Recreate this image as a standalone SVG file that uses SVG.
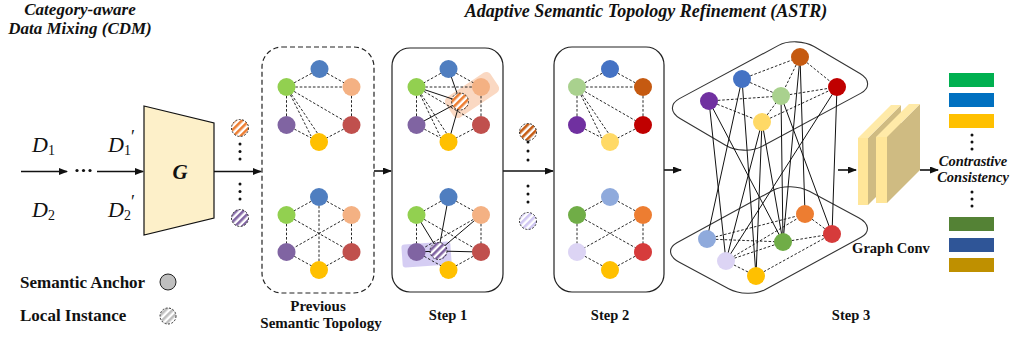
<svg xmlns="http://www.w3.org/2000/svg" width="1011" height="338" viewBox="0 0 1011 338">
  <style>
    .lbl { font-family: "Liberation Serif", "Times New Roman", serif; font-weight: bold; fill: #111; }
    .ital { font-style: italic; }
    .math { font-family: "Liberation Serif", "Times New Roman", serif; font-style: italic; fill: #111; }
    .up { font-style: normal; }
    .dash { stroke: #111; stroke-width: 0.9; stroke-dasharray: 2.6 1.8; fill: none; }
    .solid { stroke: #111; stroke-width: 1; fill: none; }
    .arrow { stroke: #111; stroke-width: 1.6; fill: none; marker-end: url(#ah); }
    .box { fill: #fff; stroke: #222; stroke-width: 1.2; }
    .dashbox { fill: #fff; stroke: #222; stroke-width: 1.2; stroke-dasharray: 5 3; }
    .inst { stroke: #222; stroke-width: 0.9; stroke-dasharray: 2 1.5; }
    .dot { fill: #111; }
    .plane { fill: none; stroke: #333; stroke-width: 1.1; vector-effect: non-scaling-stroke; }
  </style>
  <defs>
    <marker id="ah" markerWidth="9" markerHeight="7" refX="8" refY="3.5" orient="auto" markerUnits="userSpaceOnUse">
      <path d="M0,0 L9,3.5 L0,7 z" fill="#111"/>
    </marker>
    <pattern id="stOrange" patternUnits="userSpaceOnUse" width="5" height="5" patternTransform="rotate(45)">
      <rect width="5" height="5" fill="#fff"/><rect width="2.6" height="5" fill="#ED7D31"/>
    </pattern>
    <pattern id="stPurple" patternUnits="userSpaceOnUse" width="5" height="5" patternTransform="rotate(45)">
      <rect width="5" height="5" fill="#fff"/><rect width="2.6" height="5" fill="#8064A2"/>
    </pattern>
    <pattern id="stBrown" patternUnits="userSpaceOnUse" width="5" height="5" patternTransform="rotate(45)">
      <rect width="5" height="5" fill="#fff"/><rect width="2.6" height="5" fill="#C55A11"/>
    </pattern>
    <pattern id="stLav" patternUnits="userSpaceOnUse" width="5" height="5" patternTransform="rotate(45)">
      <rect width="5" height="5" fill="#fff"/><rect width="2.6" height="5" fill="#CFC6F2"/>
    </pattern>
    <pattern id="stGray" patternUnits="userSpaceOnUse" width="5" height="5" patternTransform="rotate(45)">
      <rect width="5" height="5" fill="#fff"/><rect width="2.6" height="5" fill="#BFBFBF"/>
    </pattern>
  </defs>

  <rect width="1011" height="338" fill="#fff"/>

  <!-- section titles -->
  <g id="title-cdm">
    <text class="lbl ital" x="80" y="15" font-size="17" text-anchor="middle">Category-aware</text>
    <text class="lbl ital" x="80" y="34" font-size="17" text-anchor="middle">Data Mixing (CDM)</text>
  </g>
  <g id="title-astr">
    <text class="lbl ital" x="646" y="17" font-size="18" text-anchor="middle">Adaptive Semantic Topology Refinement (ASTR)</text>
  </g>

  <!-- connectors -->
  <g id="connectors">
    <line class="arrow" x1="21" y1="171.5" x2="67" y2="171.5"/>
    <line class="arrow" x1="97" y1="171.5" x2="143" y2="171.5"/>
    <line class="arrow" x1="214" y1="171.5" x2="261" y2="171.5"/>
    <line class="arrow" x1="374" y1="171" x2="391" y2="171"/>
    <line class="arrow" x1="503" y1="171" x2="553" y2="171"/>
    <line class="arrow" x1="664" y1="170" x2="681" y2="170"/>
    <line class="arrow" x1="838" y1="170" x2="856" y2="170"/>
    <line class="arrow" x1="920" y1="170" x2="938" y2="170"/>
  </g>

  <!-- domain inputs -->
  <g id="inputs">
    <text class="math" x="32" y="152" font-size="22">D<tspan class="up" font-size="14" dy="3">1</tspan></text>
    <text class="math" x="32" y="217" font-size="22">D<tspan class="up" font-size="14" dy="3">2</tspan></text>
    <text class="math" x="108" y="152" font-size="22">D<tspan class="up" font-size="14" dy="3">1</tspan><tspan class="up" font-size="18" dy="-12">′</tspan></text>
    <text class="math" x="108" y="217" font-size="22">D<tspan class="up" font-size="14" dy="3">2</tspan><tspan class="up" font-size="18" dy="-12">′</tspan></text>
    <circle class="dot" cx="77" cy="170.5" r="1.6"/>
    <circle class="dot" cx="83.5" cy="170.5" r="1.6"/>
    <circle class="dot" cx="90" cy="170.5" r="1.6"/>
  </g>

  <!-- generator -->
  <g id="generator">
    <polygon points="144,106 214,123 214,218 144,235" fill="#FDF0C9" stroke="#111" stroke-width="1.2"/>
    <text class="lbl ital" x="180" y="179" font-size="21" text-anchor="middle">G</text>
  </g>

  <!-- mixed instances -->
  <g id="mixed-instances">
    <circle class="inst" cx="240" cy="128" r="8.5" fill="url(#stOrange)"/>
    <circle class="dot" cx="240" cy="144" r="1.5"/>
    <circle class="dot" cx="240" cy="151.5" r="1.5"/>
    <circle class="dot" cx="240" cy="159" r="1.5"/>
    <circle class="dot" cx="240" cy="184" r="1.5"/>
    <circle class="dot" cx="240" cy="191.5" r="1.5"/>
    <circle class="dot" cx="240" cy="199" r="1.5"/>
    <circle class="inst" cx="240" cy="218" r="8.5" fill="url(#stPurple)"/>
  </g>

  <!-- previous semantic topology -->
  <g id="previous-topology">
    <rect class="dashbox" x="262" y="47" width="112" height="246" rx="20"/>
    <g>
      <line class="dash" x1="319.5" y1="69" x2="286.5" y2="87"/>
      <line class="dash" x1="319.5" y1="69" x2="351.5" y2="87"/>
      <line class="dash" x1="286.5" y1="87" x2="351.5" y2="87"/>
      <line class="dash" x1="286.5" y1="87" x2="286.5" y2="125"/>
      <line class="dash" x1="351.5" y1="87" x2="351.5" y2="125"/>
      <line class="dash" x1="286.5" y1="125" x2="319" y2="142"/>
      <line class="dash" x1="351.5" y1="125" x2="319" y2="142"/>
      <line class="dash" x1="286.5" y1="87" x2="351.5" y2="125"/>
      <line class="dash" x1="286.5" y1="87" x2="318" y2="134"/>
      <line class="dash" x1="286.5" y1="87" x2="311" y2="136"/>
      <circle cx="319.5" cy="69" r="9" fill="#4F7EC0"/>
      <circle cx="286.5" cy="87" r="9" fill="#92D050"/>
      <circle cx="351.5" cy="87" r="9" fill="#F4B183"/>
      <circle cx="286.5" cy="125" r="9" fill="#8064A2"/>
      <circle cx="351.5" cy="125" r="9" fill="#C0504D"/>
      <circle cx="319" cy="142" r="9" fill="#FFC000"/>
    </g>
    <g>
      <line class="dash" x1="319" y1="197" x2="286.5" y2="215"/>
      <line class="dash" x1="319" y1="197" x2="351.5" y2="215"/>
      <line class="dash" x1="286.5" y1="215" x2="286.5" y2="252"/>
      <line class="dash" x1="351.5" y1="215" x2="351.5" y2="252"/>
      <line class="dash" x1="286.5" y1="252" x2="319" y2="270"/>
      <line class="dash" x1="351.5" y1="252" x2="319" y2="270"/>
      <line class="dash" x1="286.5" y1="215" x2="351.5" y2="252"/>
      <line class="dash" x1="351.5" y1="215" x2="286.5" y2="252"/>
      <line class="dash" x1="319" y1="197" x2="319" y2="270"/>
      <circle cx="319" cy="197" r="9" fill="#4F7EC0"/>
      <circle cx="286.5" cy="215" r="9" fill="#92D050"/>
      <circle cx="351.5" cy="215" r="9" fill="#F4B183"/>
      <circle cx="286.5" cy="252" r="9" fill="#8064A2"/>
      <circle cx="351.5" cy="252" r="9" fill="#C0504D"/>
      <circle cx="319" cy="270" r="9" fill="#FFC000"/>
    </g>
    <text class="lbl" x="318" y="311" font-size="15" text-anchor="middle">Previous</text>
    <text class="lbl" x="321" y="328" font-size="15" text-anchor="middle">Semantic Topology</text>
  </g>

  <!-- step 1: instances attach to anchors -->
  <g id="step1">
    <rect class="box" x="392" y="48" width="111" height="244" rx="18"/>
    <g>
      <rect x="445" y="83" width="54" height="24" rx="5" fill="#F8CBAD" opacity="0.75" transform="rotate(-34 472 95)"/>
      <line class="dash" x1="448.5" y1="69" x2="416.5" y2="87"/>
      <line class="dash" x1="448.5" y1="69" x2="481" y2="87"/>
      <line class="dash" x1="416.5" y1="87" x2="481" y2="87"/>
      <line class="dash" x1="416.5" y1="87" x2="416.5" y2="125"/>
      <line class="dash" x1="481" y1="87" x2="481" y2="125"/>
      <line class="dash" x1="416.5" y1="125" x2="448.5" y2="142"/>
      <line class="dash" x1="481" y1="125" x2="448.5" y2="142"/>
      <line class="dash" x1="416.5" y1="87" x2="481" y2="125"/>
      <line class="dash" x1="416.5" y1="87" x2="447" y2="134"/>
      <line class="dash" x1="416.5" y1="87" x2="440" y2="136"/>
      <line class="solid" x1="460" y1="101.5" x2="416.5" y2="87"/>
      <line class="solid" x1="460" y1="101.5" x2="416.5" y2="125"/>
      <line class="solid" x1="460" y1="101.5" x2="448.5" y2="69"/>
      <line class="solid" x1="460" y1="101.5" x2="448.5" y2="142"/>
      <circle cx="448.5" cy="69" r="9" fill="#4F7EC0"/>
      <circle cx="416.5" cy="87" r="9" fill="#92D050"/>
      <circle cx="481" cy="87" r="9" fill="#F4B183"/>
      <circle cx="416.5" cy="125" r="9" fill="#8064A2"/>
      <circle cx="481" cy="125" r="9" fill="#C0504D"/>
      <circle cx="448.5" cy="142" r="9" fill="#FFC000"/>
      <circle class="inst" cx="460" cy="101.5" r="8.5" fill="url(#stOrange)"/>
    </g>
    <g>
      <rect x="402" y="243" width="49" height="23" rx="3" fill="#B9ACEB" opacity="0.6" transform="rotate(-4 426.5 254.5)"/>
      <line class="dash" x1="448.5" y1="197" x2="416.5" y2="215"/>
      <line class="dash" x1="448.5" y1="197" x2="481" y2="215"/>
      <line class="dash" x1="416.5" y1="215" x2="416.5" y2="252"/>
      <line class="dash" x1="481" y1="215" x2="481" y2="252"/>
      <line class="dash" x1="416.5" y1="252" x2="448.5" y2="270"/>
      <line class="dash" x1="481" y1="252" x2="448.5" y2="270"/>
      <line class="dash" x1="416.5" y1="215" x2="481" y2="252"/>
      <line class="dash" x1="481" y1="215" x2="416.5" y2="252"/>
      <line class="solid" x1="438.5" y1="251" x2="448.5" y2="197"/>
      <line class="solid" x1="438.5" y1="251" x2="416.5" y2="215"/>
      <line class="solid" x1="438.5" y1="251" x2="481" y2="215"/>
      <line class="solid" x1="438.5" y1="251" x2="481" y2="252"/>
      <line class="solid" x1="438.5" y1="251" x2="416.5" y2="252"/>
      <circle cx="448.5" cy="197" r="9" fill="#4F7EC0"/>
      <circle cx="416.5" cy="215" r="9" fill="#92D050"/>
      <circle cx="481" cy="215" r="9" fill="#F4B183"/>
      <circle cx="416.5" cy="252" r="9" fill="#8064A2"/>
      <circle cx="481" cy="252" r="9" fill="#C0504D"/>
      <circle cx="448.5" cy="270" r="9" fill="#FFC000"/>
      <circle class="inst" cx="438.5" cy="251" r="8.5" fill="url(#stPurple)"/>
    </g>
    <text class="lbl" x="448" y="320" font-size="14.5" text-anchor="middle">Step 1</text>
  </g>

  <!-- refined instances -->
  <g id="refined-instances">
    <circle class="inst" cx="528" cy="132" r="8.5" fill="url(#stBrown)"/>
    <circle class="dot" cx="528" cy="142" r="1.5"/>
    <circle class="dot" cx="528" cy="151" r="1.5"/>
    <circle class="dot" cx="528" cy="160" r="1.5"/>
    <circle class="dot" cx="528" cy="186" r="1.5"/>
    <circle class="dot" cx="528" cy="194" r="1.5"/>
    <circle class="dot" cx="528" cy="202" r="1.5"/>
    <circle class="inst" cx="528" cy="221" r="8.5" fill="url(#stLav)"/>
  </g>

  <!-- step 2: updated anchors -->
  <g id="step2">
    <rect class="box" x="554" y="47" width="110" height="245" rx="18"/>
    <g>
      <line class="dash" x1="610" y1="69" x2="577" y2="87"/>
      <line class="dash" x1="610" y1="69" x2="643" y2="87"/>
      <line class="dash" x1="577" y1="87" x2="643" y2="87"/>
      <line class="dash" x1="577" y1="87" x2="577" y2="125"/>
      <line class="dash" x1="643" y1="87" x2="643" y2="125"/>
      <line class="dash" x1="577" y1="125" x2="610" y2="142"/>
      <line class="dash" x1="643" y1="125" x2="610" y2="142"/>
      <line class="dash" x1="577" y1="87" x2="643" y2="125"/>
      <line class="dash" x1="577" y1="87" x2="609" y2="134"/>
      <line class="dash" x1="577" y1="87" x2="601" y2="136"/>
      <circle cx="610" cy="69" r="9" fill="#4472C4"/>
      <circle cx="577" cy="87" r="9" fill="#A9D18E"/>
      <circle cx="643" cy="87" r="9" fill="#C55A11"/>
      <circle cx="577" cy="125" r="9" fill="#7030A0"/>
      <circle cx="643" cy="125" r="9" fill="#C00000"/>
      <circle cx="610" cy="142" r="9" fill="#FFD966"/>
    </g>
    <g>
      <line class="dash" x1="610" y1="197" x2="577" y2="215"/>
      <line class="dash" x1="610" y1="197" x2="643" y2="215"/>
      <line class="dash" x1="577" y1="215" x2="577" y2="252"/>
      <line class="dash" x1="643" y1="215" x2="643" y2="252"/>
      <line class="dash" x1="577" y1="252" x2="610" y2="270"/>
      <line class="dash" x1="643" y1="252" x2="610" y2="270"/>
      <line class="dash" x1="577" y1="215" x2="643" y2="252"/>
      <line class="dash" x1="643" y1="215" x2="577" y2="252"/>
      <circle cx="610" cy="197" r="9" fill="#8FAADC"/>
      <circle cx="577" cy="215" r="9" fill="#70AD47"/>
      <circle cx="643" cy="215" r="9" fill="#ED7D31"/>
      <circle cx="577" cy="252" r="9" fill="#DCD4F4"/>
      <circle cx="643" cy="252" r="9" fill="#D63B3B"/>
      <circle cx="610" cy="270" r="9" fill="#FFC000"/>
    </g>
    <text class="lbl" x="610" y="320" font-size="14.5" text-anchor="middle">Step 2</text>
  </g>

  <!-- step 3: cross-domain topology -->
  <g id="step3">
    <rect class="plane" x="0" y="0" width="100" height="100" rx="13" ry="22" transform="matrix(1.34 -0.72 0.82 0.48 662 108)"/>
    <rect class="plane" x="0" y="0" width="100" height="100" rx="13" ry="22" transform="matrix(1.30 -0.71 0.88 0.47 660 252)"/>
    <!-- intra-domain edges, upper plane -->
    <line class="dash" x1="742" y1="79" x2="800" y2="57"/>
    <line class="dash" x1="742" y1="79" x2="781" y2="96"/>
    <line class="dash" x1="800" y1="57" x2="781" y2="96"/>
    <line class="dash" x1="800" y1="57" x2="837" y2="87"/>
    <line class="dash" x1="709" y1="101" x2="781" y2="96"/>
    <line class="dash" x1="781" y1="96" x2="837" y2="87"/>
    <line class="dash" x1="709" y1="101" x2="762" y2="122"/>
    <line class="dash" x1="762" y1="122" x2="781" y2="96"/>
    <line class="dash" x1="762" y1="122" x2="837" y2="87"/>
    <!-- intra-domain edges, lower plane -->
    <line class="dash" x1="707" y1="239" x2="805" y2="214"/>
    <line class="dash" x1="707" y1="239" x2="783" y2="242"/>
    <line class="dash" x1="726" y1="261" x2="805" y2="214"/>
    <line class="dash" x1="726" y1="261" x2="783" y2="242"/>
    <line class="dash" x1="783" y1="242" x2="832" y2="234"/>
    <line class="dash" x1="805" y1="214" x2="832" y2="234"/>
    <line class="dash" x1="726" y1="261" x2="756" y2="276"/>
    <line class="dash" x1="756" y1="276" x2="832" y2="234"/>
    <!-- cross-domain edges -->
    <line class="solid" x1="709" y1="101" x2="726" y2="261"/>
    <line class="solid" x1="709" y1="101" x2="783" y2="242"/>
    <line class="solid" x1="742" y1="79" x2="707" y2="239"/>
    <line class="solid" x1="742" y1="79" x2="756" y2="276"/>
    <line class="solid" x1="762" y1="122" x2="726" y2="261"/>
    <line class="solid" x1="762" y1="122" x2="756" y2="276"/>
    <line class="solid" x1="762" y1="122" x2="783" y2="242"/>
    <line class="solid" x1="781" y1="96" x2="783" y2="242"/>
    <line class="solid" x1="781" y1="96" x2="832" y2="234"/>
    <line class="solid" x1="800" y1="57" x2="805" y2="214"/>
    <line class="solid" x1="800" y1="57" x2="783" y2="242"/>
    <line class="solid" x1="837" y1="87" x2="832" y2="234"/>
    <line class="solid" x1="837" y1="87" x2="726" y2="261"/>
    <!-- anchors, upper plane -->
    <circle cx="800" cy="57" r="9" fill="#C55A11"/>
    <circle cx="742" cy="79" r="9" fill="#4472C4"/>
    <circle cx="837" cy="87" r="9" fill="#C00000"/>
    <circle cx="781" cy="96" r="9" fill="#A9D18E"/>
    <circle cx="709" cy="101" r="9" fill="#7030A0"/>
    <circle cx="762" cy="122" r="9" fill="#FFD966"/>
    <!-- anchors, lower plane -->
    <circle cx="805" cy="214" r="9" fill="#ED7D31"/>
    <circle cx="832" cy="234" r="9" fill="#D63B3B"/>
    <circle cx="707" cy="239" r="9" fill="#8FAADC"/>
    <circle cx="783" cy="242" r="9" fill="#70AD47"/>
    <circle cx="726" cy="261" r="9" fill="#DCD4F4"/>
    <circle cx="756" cy="276" r="9" fill="#FFC000"/>
    <text class="lbl" x="851" y="320" font-size="14.5" text-anchor="middle">Step 3</text>
  </g>

  <!-- graph convolution layers -->
  <g id="graph-conv">
    <polygon points="868,138 901,105 901,172 868,205" fill="#CFBB82"/>
    <polygon points="858,138 891,105 901,105 868,138" fill="#FFEAA8"/>
    <rect x="858" y="138" width="10" height="67" fill="#FFE699"/>
    <polygon points="887,137 920,104 920,170 887,203" fill="#CFBB82"/>
    <polygon points="876,137 909,104 920,104 887,137" fill="#FFEAA8"/>
    <rect x="876" y="137" width="11" height="66" fill="#FFE699"/>
    <text class="lbl" x="891" y="253" font-size="14.5" text-anchor="middle">Graph Conv</text>
  </g>

  <!-- contrastive consistency -->
  <g id="contrastive">
    <rect x="949" y="73" width="45" height="14" fill="#00B050"/>
    <rect x="949" y="93" width="45" height="14" fill="#0070C0"/>
    <rect x="949" y="114" width="45" height="14" fill="#FFC000"/>
    <circle class="dot" cx="972" cy="135" r="1.5"/>
    <circle class="dot" cx="972" cy="142" r="1.5"/>
    <circle class="dot" cx="972" cy="149" r="1.5"/>
    <text class="lbl ital" x="973" y="166" font-size="14.5" text-anchor="middle">Contrastive</text>
    <text class="lbl ital" x="973" y="182" font-size="14.5" text-anchor="middle">Consistency</text>
    <circle class="dot" cx="972" cy="192" r="1.5"/>
    <circle class="dot" cx="972" cy="199" r="1.5"/>
    <circle class="dot" cx="972" cy="206" r="1.5"/>
    <rect x="949" y="217" width="45" height="14" fill="#548235"/>
    <rect x="949" y="238" width="45" height="14" fill="#2F5597"/>
    <rect x="949" y="258" width="45" height="14" fill="#BF9000"/>
  </g>

  <!-- legend -->
  <g id="legend">
    <text class="lbl" x="20" y="288" font-size="17">Semantic Anchor</text>
    <circle cx="168" cy="282" r="8" fill="#BFBFBF" stroke="#222" stroke-width="1"/>
    <text class="lbl" x="20" y="321" font-size="17">Local Instance</text>
    <circle class="inst" cx="168" cy="316" r="8" fill="url(#stGray)"/>
  </g>
</svg>
